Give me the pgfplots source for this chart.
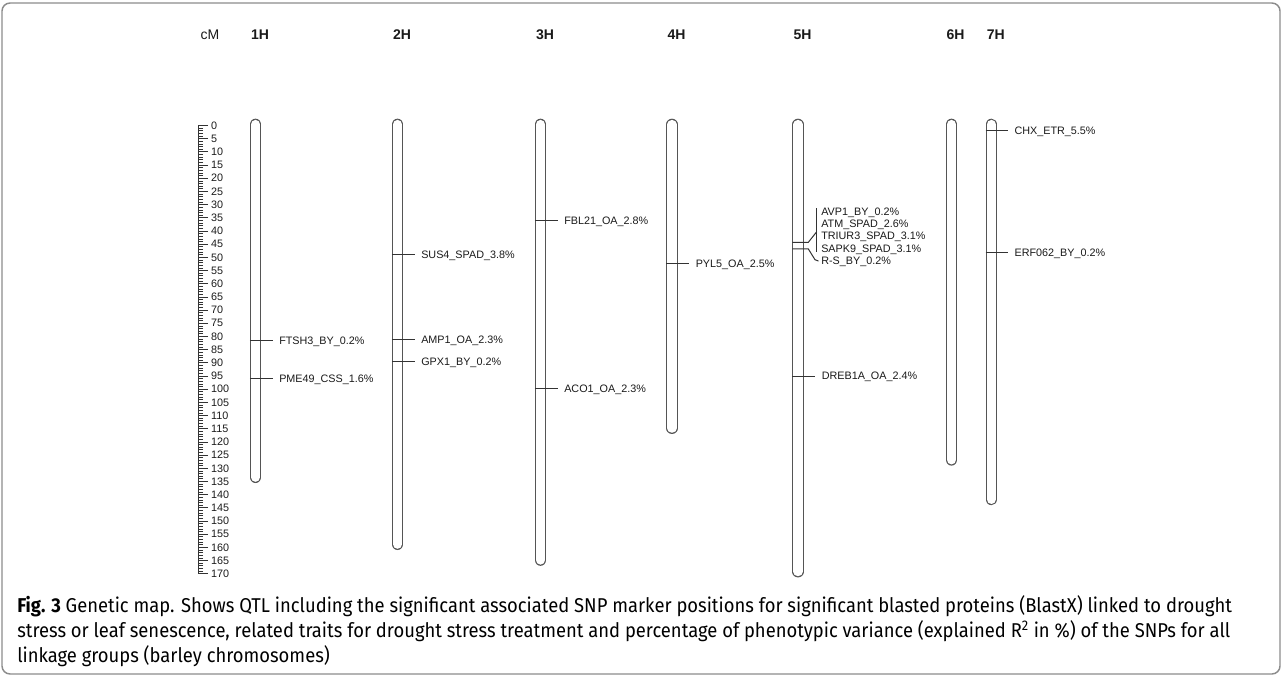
\documentclass[border=0pt]{standalone}
\usepackage{fontspec}
\setmainfont{Liberation Sans}
\newfontfamily\capfont[FakeStretch=0.92]{Fira Sans}
\usepackage{pgfplots}
\pgfplotsset{compat=1.18}
\definecolor{chr}{HTML}{555555}
\definecolor{mk}{HTML}{333333}
\definecolor{txt}{HTML}{1A1A1A}
\definecolor{framec}{HTML}{8C8C8C}
\tikzset{
  lbl/.style={font=\fontsize{8.1pt}{9pt}\selectfont, text=txt, inner sep=0pt, anchor=west, text height=5.9pt, text depth=0pt},
  hdr/.style={font=\fontsize{10.5pt}{12pt}\selectfont\bfseries, text=txt, inner sep=0pt, anchor=center},
  captxt/.style={font=\capfont\fontsize{15pt}{17pt}\selectfont, text=black, inner sep=0pt, anchor=base west},
}
\pgfplotsset{
  chrout/.style={chr, line width=8.625pt, line cap=round, forget plot},
  chrin/.style={white, line width=6.825pt, line cap=round, forget plot},
  mkline/.style={mk, line width=0.75pt, forget plot},
}
\begin{document}
\begin{tikzpicture}
\begin{axis}[at={(0,0)}, anchor=south west, scale only axis,
  width=961.5pt, height=507.75pt,
  xmin=0, xmax=1282, ymin=-47.59, ymax=209.14, y dir=reverse,
  hide axis, clip=false]
% frame
\draw[framec, line width=1.1pt, rounded corners=6pt] (axis cs:2,-46.45) rectangle (axis cs:1280,208.0);
% headers
\node[font=\fontsize{10.5pt}{12pt}\selectfont, text=txt, inner sep=0pt] at (axis cs:210,-34.6) {cM};
\node[hdr] at (axis cs:260,-34.6) {1H};
\node[hdr] at (axis cs:402,-34.6) {2H};
\node[hdr] at (axis cs:545,-34.6) {3H};
\node[hdr] at (axis cs:676.5,-34.6) {4H};
\node[hdr] at (axis cs:802.5,-34.6) {5H};
\node[hdr] at (axis cs:955.5,-34.6) {6H};
\node[hdr] at (axis cs:995.8,-34.6) {7H};
% chromosomes (outline)
\addplot[chrout] coordinates {(255.5,-0.4) (255.5,133.4)};
\addplot[chrout] coordinates {(397.5,-0.4) (397.5,158.8)};
\addplot[chrout] coordinates {(540.5,-0.4) (540.5,164.8)};
\addplot[chrout] coordinates {(672,-0.4) (672,114.8)};
\addplot[chrout] coordinates {(798,-0.4) (798,169.2)};
\addplot[chrout] coordinates {(951.5,-0.4) (951.5,126.8)};
\addplot[chrout] coordinates {(991.3,-0.4) (991.3,141.8)};
% chromosomes (inside)
\addplot[chrin] coordinates {(255.5,-0.4) (255.5,133.4)};
\addplot[chrin] coordinates {(397.5,-0.4) (397.5,158.8)};
\addplot[chrin] coordinates {(540.5,-0.4) (540.5,164.8)};
\addplot[chrin] coordinates {(672,-0.4) (672,114.8)};
\addplot[chrin] coordinates {(798,-0.4) (798,169.2)};
\addplot[chrin] coordinates {(951.5,-0.4) (951.5,126.8)};
\addplot[chrin] coordinates {(991.3,-0.4) (991.3,141.8)};
% markers 1H
\addplot[mkline] coordinates {(249.75,81.7) (272.5,81.7)};
\node[lbl] at (axis cs:279,81.7) {FTSH3\_BY\_0.2\%};
\addplot[mkline] coordinates {(249.75,95.8) (272.5,95.8)};
\node[lbl] at (axis cs:279,95.8) {PME49\_CSS\_1.6\%};
% 2H
\addplot[mkline] coordinates {(391.75,49.1) (414.5,49.1)};
\node[lbl] at (axis cs:421,49.1) {SUS4\_SPAD\_3.8\%};
\addplot[mkline] coordinates {(391.75,81.3) (414.5,81.3)};
\node[lbl] at (axis cs:421,81.3) {AMP1\_OA\_2.3\%};
\addplot[mkline] coordinates {(391.75,89.4) (414.5,89.4)};
\node[lbl] at (axis cs:421,89.4) {GPX1\_BY\_0.2\%};
% 3H
\addplot[mkline] coordinates {(534.75,36.1) (557.5,36.1)};
\node[lbl] at (axis cs:564,36.1) {FBL21\_OA\_2.8\%};
\addplot[mkline] coordinates {(534.75,99.9) (557.5,99.9)};
\node[lbl] at (axis cs:564,99.9) {ACO1\_OA\_2.3\%};
% 4H
\addplot[mkline] coordinates {(666.25,52.3) (689,52.3)};
\node[lbl] at (axis cs:695.5,52.3) {PYL5\_OA\_2.5\%};
% 5H cluster
\addplot[mkline] coordinates {(792.25,44.3) (808.3,44.3) (816.7,40.3)};
\addplot[mkline] coordinates {(816.7,31.4) (816.7,47.9)};
\addplot[mkline] coordinates {(792.25,46.8) (808.3,46.8) (815,50.9) (818.5,51.4)};
\node[lbl] at (axis cs:821,32.7) {AVP1\_BY\_0.2\%};
\node[lbl] at (axis cs:821,37.1) {ATM\_SPAD\_2.6\%};
\node[lbl] at (axis cs:821,41.8) {TRIUR3\_SPAD\_3.1\%};
\node[lbl] at (axis cs:821,46.6) {SAPK9\_SPAD\_3.1\%};
\node[lbl] at (axis cs:821,51.4) {R-S\_BY\_0.2\%};
\addplot[mkline] coordinates {(792.25,95.0) (815,95.0)};
\node[lbl] at (axis cs:821.5,95.0) {DREB1A\_OA\_2.4\%};
% 7H
\addplot[mkline] coordinates {(985.55,2.0) (1008.3,2.0)};
\node[lbl] at (axis cs:1014.3,2.0) {CHX\_ETR\_5.5\%};
\addplot[mkline] coordinates {(985.55,48.2) (1008.3,48.2)};
\node[lbl] at (axis cs:1014.3,48.2) {ERF062\_BY\_0.2\%};
% caption
\node[captxt] at (axis cs:17,184.5) {\textbf{Fig. 3} Genetic map. Shows QTL including the significant associated SNP marker positions for significant blasted proteins (BlastX) linked to drought};
\node[captxt] at (axis cs:17,194.0) {stress or leaf senescence, related traits for drought stress treatment and percentage of phenotypic variance (explained R\textsuperscript{2} in \%) of the SNPs for all};
\node[captxt] at (axis cs:17,203.5) {linkage groups (barley chromosomes)};
\end{axis}
% cM ruler
\begin{axis}[at={(148.9pt,413.625pt)}, anchor=north east, scale only axis,
  width=2pt, height=336.2pt, xmin=0, xmax=1, ymin=0, ymax=170, y dir=reverse,
  axis y line=right, hide x axis,
  y axis line style={-, draw=mk, line width=0.7pt},
  ytick={0,5,...,170}, minor y tick num=4, tick align=outside,
  major tick length=7.1pt, minor tick length=3.4pt,
  every tick/.style={mk, line width=0.55pt},
  yticklabel style={font=\fontsize{8.1pt}{9pt}\selectfont, text=txt, inner sep=0pt, xshift=2.2pt},
  /pgf/number format/assume math mode=true, /pgf/number format/1000 sep={}]
\addplot[draw=none] coordinates {(0,0) (1,170)};
\end{axis}
\pgfresetboundingbox
\path (0,0) rectangle (961.5pt,507.75pt);
\end{tikzpicture}
\end{document}
